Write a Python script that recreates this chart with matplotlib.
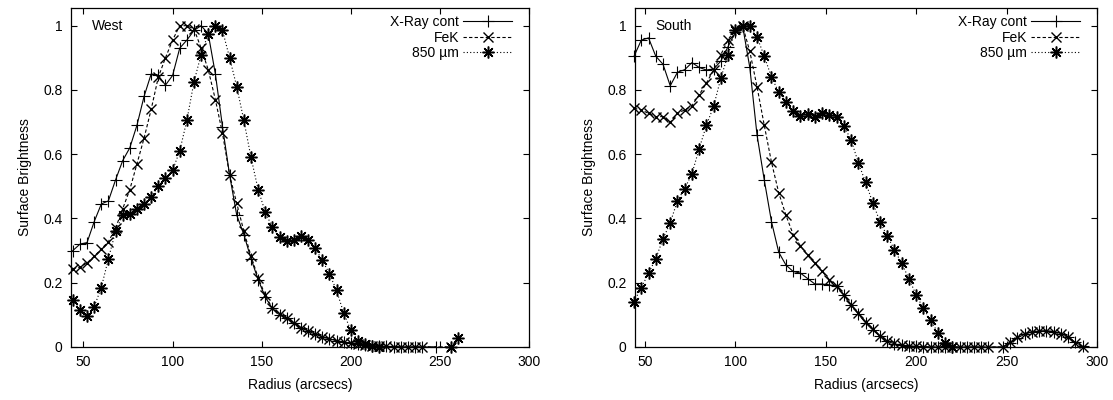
import matplotlib
matplotlib.use('Agg')
import matplotlib.pyplot as plt
from matplotlib.ticker import FormatStrFormatter, MultipleLocator

plt.rcParams['font.family'] = ['Liberation Sans', 'DejaVu Sans']
plt.rcParams['font.size'] = 10

# ---- West profile (radius in arcsec, normalised surface brightness) ----
west_xray_r = list(range(44, 244, 4)) + [248]
west_xray = [0.30, 0.32, 0.325, 0.39, 0.445, 0.455, 0.52, 0.58, 0.62, 0.69,
             0.78, 0.85, 0.845, 0.815, 0.845, 0.93, 0.955, 0.985, 1.0, 0.975,
             0.85, 0.686, 0.535, 0.41, 0.35, 0.275, 0.21, 0.155, 0.12, 0.10,
             0.09, 0.075, 0.06, 0.05, 0.04, 0.032, 0.025, 0.02, 0.015, 0.011,
             0.008, 0.006, 0.004, 0.003, 0.002, 0.001, 0.001, 0.0, 0.0, 0.0,
             0.0]

west_fek_r = list(range(44, 244, 4)) + [256]
west_fek = [0.244, 0.248, 0.262, 0.282, 0.305, 0.328, 0.37, 0.43, 0.49, 0.57,
            0.65, 0.74, 0.84, 0.90, 0.955, 1.0, 1.0, 0.99, 0.93, 0.863,
            0.77, 0.665, 0.535, 0.447, 0.36, 0.283, 0.216, 0.161, 0.12, 0.104,
            0.09, 0.075, 0.06, 0.05, 0.04, 0.032, 0.025, 0.02, 0.015, 0.011,
            0.008, 0.006, 0.004, 0.003, 0.002, 0.001, 0.001, 0.0, 0.0, 0.0,
            0.0]

west_850_r = list(range(44, 220, 4)) + [256, 260]
west_850 = [0.145, 0.115, 0.097, 0.125, 0.185, 0.275, 0.36, 0.41, 0.415, 0.43,
            0.445, 0.468, 0.50, 0.525, 0.55, 0.61, 0.705, 0.825, 0.91, 0.975,
            1.0, 0.985, 0.90, 0.81, 0.705, 0.59, 0.49, 0.42, 0.372, 0.343,
            0.33, 0.333, 0.345, 0.333, 0.307, 0.27, 0.228, 0.176, 0.106, 0.052,
            0.02, 0.008, 0.003, 0.0, 0.0, 0.028]

# ---- South profile ----
south_r = list(range(44, 244, 4)) + list(range(248, 296, 4))
south_xray = [0.905, 0.955, 0.962, 0.905, 0.88, 0.813, 0.855, 0.863, 0.885, 0.87,
              0.862, 0.865, 0.89, 0.935, 0.98, 1.0, 0.87, 0.66, 0.52, 0.39,
              0.295, 0.255, 0.235, 0.23, 0.213, 0.196, 0.196, 0.193, 0.19, 0.162,
              0.131, 0.103, 0.075, 0.053, 0.033, 0.018, 0.01, 0.005, 0.003, 0.002,
              0.001, 0.0, 0.0, 0.0, 0.0, 0.0, 0.0, 0.0, 0.0, 0.0,
              0.0, 0.012, 0.028, 0.04, 0.047, 0.05, 0.051, 0.048, 0.042, 0.032,
              0.015, 0.002]
south_fek = [0.743, 0.738, 0.727, 0.717, 0.717, 0.699, 0.727, 0.738, 0.751, 0.785,
             0.821, 0.863, 0.91, 0.956, 0.99, 1.0, 0.92, 0.81, 0.69, 0.575,
             0.48, 0.41, 0.35, 0.315, 0.285, 0.26, 0.235, 0.21, 0.19, 0.162,
             0.132, 0.105, 0.078, 0.055, 0.035, 0.02, 0.011, 0.006, 0.003, 0.002,
             0.001, 0.0, 0.0, 0.0, 0.0, 0.0, 0.0, 0.0, 0.0, 0.0,
             0.0, 0.015, 0.03, 0.041, 0.048, 0.05, 0.05, 0.047, 0.04, 0.03,
             0.014, 0.0]

south_850_r = list(range(44, 224, 4))
south_850 = [0.141, 0.185, 0.229, 0.275, 0.336, 0.387, 0.455, 0.493, 0.539, 0.617,
             0.69, 0.749, 0.837, 0.91, 0.985, 1.0, 1.0, 0.965, 0.905, 0.84,
             0.793, 0.764, 0.733, 0.72, 0.725, 0.717, 0.728, 0.722, 0.717, 0.688,
             0.645, 0.574, 0.513, 0.449, 0.39, 0.345, 0.303, 0.26, 0.213, 0.162,
             0.12, 0.083, 0.045, 0.012, 0.0]

labels = ['X-Ray cont', 'FeK', '850 \u00b5m']


def draw_panel(ax, name, xr, xv, fr, fv, sr, sv, xmin):
    ax.plot(xr, xv, color='black', lw=0.8, ls='-', marker='+', ms=8.5, mew=0.8,
            clip_on=False, label=labels[0])
    ax.plot(fr, fv, color='black', lw=0.8, ls=(0, (3, 2)), marker='x', ms=7, mew=1.0,
            clip_on=False, label=labels[1])
    ax.plot(sr, sv, color='black', lw=0.8, ls=(0, (1, 2)), marker=(8, 2, 0), ms=8.5, mew=1.1,
            clip_on=False, label=labels[2])

    ax.set_xlim(xmin, 300)
    ax.set_ylim(0, 1.055)
    ax.xaxis.set_major_locator(MultipleLocator(50))
    ax.yaxis.set_major_locator(MultipleLocator(0.2))
    ax.yaxis.set_major_formatter(FormatStrFormatter('%g'))
    ax.tick_params(direction='in', top=True, right=True, length=4, width=0.8, pad=6,
                   labelsize=10)
    for s in ax.spines.values():
        s.set_linewidth(0.9)
    ax.set_xlabel('Radius (arcsecs)', labelpad=6)
    ax.set_ylabel('Surface Brightness', labelpad=8)
    ax.text(0.045, 0.948, name, transform=ax.transAxes, fontsize=10, va='center', ha='left')
    ax.legend(loc='upper right', bbox_to_anchor=(0.975, 0.995), borderaxespad=0,
              frameon=False, markerfirst=False, handlelength=3.5, handletextpad=0.3,
              labelspacing=0.1, numpoints=1, fontsize=10)


fig = plt.figure(figsize=(11.13, 4.0), dpi=100)
ax1 = fig.add_axes([0.0638, 0.1325, 0.4115, 0.8475])
ax2 = fig.add_axes([0.5705, 0.1325, 0.4151, 0.8475])

draw_panel(ax1, 'West', west_xray_r, west_xray, west_fek_r, west_fek,
           west_850_r, west_850, 43)
draw_panel(ax2, 'South', south_r, south_xray, south_r, south_fek,
           south_850_r, south_850, 44.5)

fig.savefig('out.png', dpi=100)
